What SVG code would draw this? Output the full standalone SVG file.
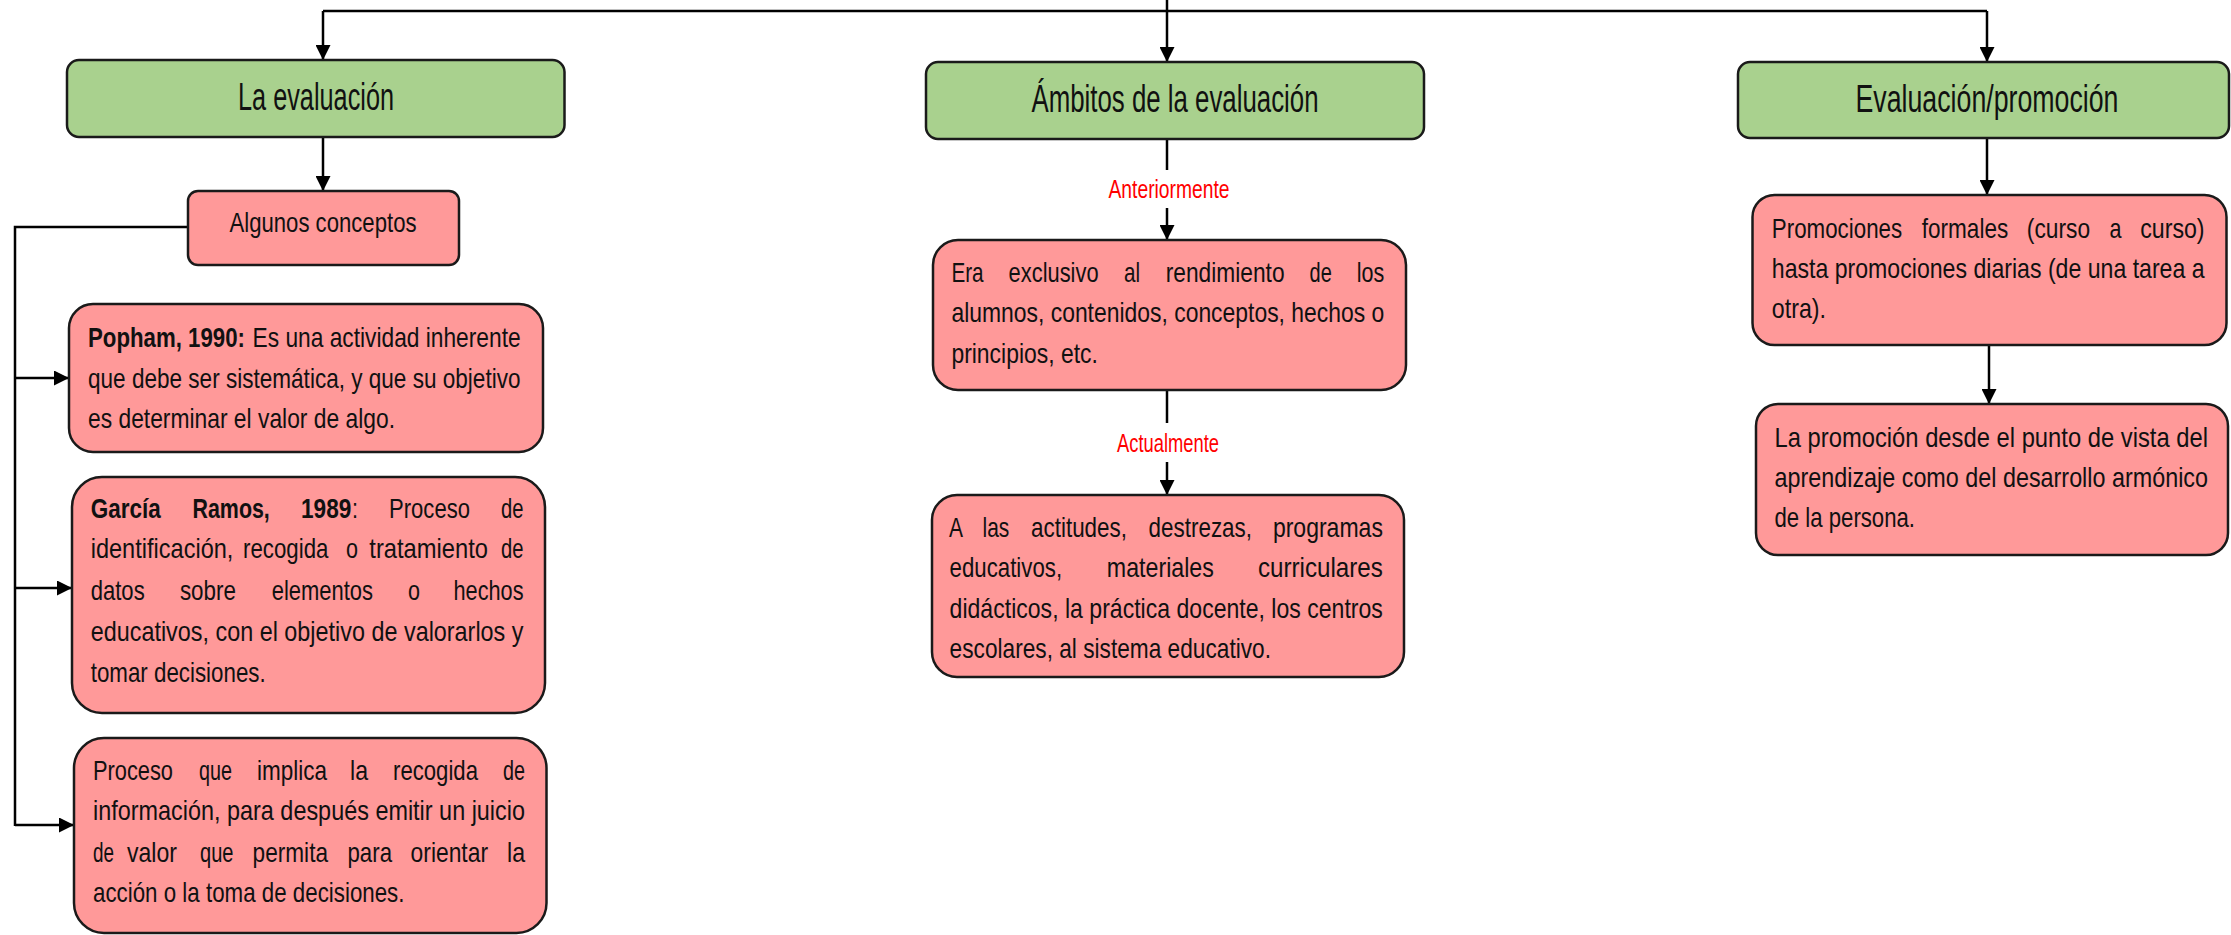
<svg xmlns="http://www.w3.org/2000/svg" width="2231" height="935" viewBox="0 0 2231 935">
<defs>
<style>
text{font-family:"Liberation Sans",Arial,sans-serif;fill:#111}
.h{font-size:38px}
.b{font-size:28px}
.lbl{font-size:26px;fill:#ff0000}
.bd{font-weight:bold}
.green{fill:#a9d18e;stroke:#1a1a1a;stroke-width:2.5}
.pink{fill:#ff9999;stroke:#1a1a1a;stroke-width:2.5}
.conn{fill:none;stroke:#000;stroke-width:2.5}
.arr{marker-end:url(#ah)}
</style>
<marker id="ah" viewBox="0 0 10 10" refX="10" refY="5" markerWidth="15" markerHeight="15" markerUnits="userSpaceOnUse" orient="auto"><path d="M0,0 L10,5 L0,10 z" fill="#000"/></marker>
</defs>
<rect width="2231" height="935" fill="#fff"/>

<g id="connectors">
<path class="conn" d="M323,11 H1987"/>
<path class="conn arr" d="M1167,0 V62"/>
<path class="conn arr" d="M323,11 V60"/>
<path class="conn arr" d="M1987,11 V62"/>
<path class="conn arr" d="M323,137 V191"/>
<path class="conn" d="M188,227 H15 V826"/>
<path class="conn arr" d="M15,378 H69"/>
<path class="conn arr" d="M15,588 H72"/>
<path class="conn arr" d="M15,825 H74"/>
<path class="conn" d="M1167,139 V170"/>
<path class="conn arr" d="M1167,208 V240"/>
<path class="conn" d="M1167,390 V423"/>
<path class="conn arr" d="M1167,462 V495"/>
<path class="conn arr" d="M1987,138 V195"/>
<path class="conn arr" d="M1989,345 V404"/>
<text class="lbl" x="1169" y="198" text-anchor="middle" textLength="121" lengthAdjust="spacingAndGlyphs">Anteriormente</text>
<text class="lbl" x="1168" y="452" text-anchor="middle" textLength="102" lengthAdjust="spacingAndGlyphs">Actualmente</text>
</g>

<g id="la-evaluacion">
<rect class="green" x="67" y="60" width="497.5" height="77" rx="12"/>
<text class="h" x="316" y="110" text-anchor="middle" textLength="156" lengthAdjust="spacingAndGlyphs">La evaluación</text>
</g>

<g id="algunos-conceptos">
<rect class="pink" x="188" y="191" width="271" height="74" rx="10"/>
<text class="b" x="323" y="232" text-anchor="middle" textLength="187" lengthAdjust="spacingAndGlyphs">Algunos conceptos</text>
</g>

<g id="popham">
<rect class="pink" x="69" y="304" width="474" height="148" rx="24"/>
<text class="b" y="347"><tspan class="bd" x="88" textLength="157" lengthAdjust="spacingAndGlyphs">Popham, 1990:</tspan><tspan x="252.6" textLength="268" lengthAdjust="spacingAndGlyphs">Es una actividad inherente</tspan></text>
<text class="b" x="88" y="388" textLength="432.5" lengthAdjust="spacingAndGlyphs">que debe ser sistemática, y que su objetivo</text>
<text class="b" x="88" y="428" textLength="307" lengthAdjust="spacingAndGlyphs">es determinar el valor de algo.</text>
</g>

<g id="garcia-ramos">
<rect class="pink" x="72" y="477" width="473" height="236" rx="30"/>
<text class="b" y="518"><tspan class="bd" x="90.7" textLength="70" lengthAdjust="spacingAndGlyphs">García</tspan><tspan class="bd" x="192.5" textLength="77.3" lengthAdjust="spacingAndGlyphs">Ramos,</tspan><tspan class="bd" x="301" textLength="50.3" lengthAdjust="spacingAndGlyphs">1989</tspan><tspan x="352" textLength="6" lengthAdjust="spacingAndGlyphs">:</tspan><tspan x="389" textLength="81" lengthAdjust="spacingAndGlyphs">Proceso</tspan><tspan x="501" textLength="22.5" lengthAdjust="spacingAndGlyphs">de</tspan></text>
<text class="b" y="558"><tspan x="90.7" textLength="142.7" lengthAdjust="spacingAndGlyphs">identificación,</tspan><tspan x="243" textLength="85.4" lengthAdjust="spacingAndGlyphs">recogida</tspan><tspan x="346" textLength="12" lengthAdjust="spacingAndGlyphs">o</tspan><tspan x="369.3" textLength="118.7" lengthAdjust="spacingAndGlyphs">tratamiento</tspan><tspan x="501" textLength="22.5" lengthAdjust="spacingAndGlyphs">de</tspan></text>
<text class="b" y="600"><tspan x="90.7" textLength="54" lengthAdjust="spacingAndGlyphs">datos</tspan><tspan x="179.9" textLength="56.1" lengthAdjust="spacingAndGlyphs">sobre</tspan><tspan x="271.7" textLength="101.3" lengthAdjust="spacingAndGlyphs">elementos</tspan><tspan x="408" textLength="12" lengthAdjust="spacingAndGlyphs">o</tspan><tspan x="453.5" textLength="70" lengthAdjust="spacingAndGlyphs">hechos</tspan></text>
<text class="b" x="90.7" y="641" textLength="432.8" lengthAdjust="spacingAndGlyphs">educativos, con el objetivo de valorarlos y</text>
<text class="b" x="90.7" y="682" textLength="175" lengthAdjust="spacingAndGlyphs">tomar decisiones.</text>
</g>

<g id="proceso">
<rect class="pink" x="74" y="738" width="472.5" height="195" rx="30"/>
<text class="b" y="780"><tspan x="93" textLength="80" lengthAdjust="spacingAndGlyphs">Proceso</tspan><tspan x="199" textLength="33" lengthAdjust="spacingAndGlyphs">que</tspan><tspan x="257" textLength="70" lengthAdjust="spacingAndGlyphs">implica</tspan><tspan x="350" textLength="18" lengthAdjust="spacingAndGlyphs">la</tspan><tspan x="393" textLength="85" lengthAdjust="spacingAndGlyphs">recogida</tspan><tspan x="503" textLength="22" lengthAdjust="spacingAndGlyphs">de</tspan></text>
<text class="b" x="93" y="820" textLength="432" lengthAdjust="spacingAndGlyphs">información, para después emitir un juicio</text>
<text class="b" y="862"><tspan x="93" textLength="21" lengthAdjust="spacingAndGlyphs">de</tspan><tspan x="127" textLength="50" lengthAdjust="spacingAndGlyphs">valor</tspan><tspan x="200" textLength="33.5" lengthAdjust="spacingAndGlyphs">que</tspan><tspan x="252.6" textLength="75.4" lengthAdjust="spacingAndGlyphs">permita</tspan><tspan x="347.5" textLength="44.5" lengthAdjust="spacingAndGlyphs">para</tspan><tspan x="410.6" textLength="77.4" lengthAdjust="spacingAndGlyphs">orientar</tspan><tspan x="507" textLength="18" lengthAdjust="spacingAndGlyphs">la</tspan></text>
<text class="b" x="93" y="902" textLength="311.5" lengthAdjust="spacingAndGlyphs">acción o la toma de decisiones.</text>
</g>

<g id="ambitos">
<rect class="green" x="926" y="62" width="498" height="77" rx="12"/>
<text class="h" x="1175" y="112" text-anchor="middle" textLength="287" lengthAdjust="spacingAndGlyphs">Ámbitos de la evaluación</text>
</g>

<g id="anteriormente">
<rect class="pink" x="933" y="240" width="473" height="150" rx="25"/>
<text class="b" y="282"><tspan x="951.4" textLength="32.2" lengthAdjust="spacingAndGlyphs">Era</tspan><tspan x="1008.6" textLength="90" lengthAdjust="spacingAndGlyphs">exclusivo</tspan><tspan x="1123.9" textLength="16.1" lengthAdjust="spacingAndGlyphs">al</tspan><tspan x="1165.7" textLength="118.9" lengthAdjust="spacingAndGlyphs">rendimiento</tspan><tspan x="1309.6" textLength="22.2" lengthAdjust="spacingAndGlyphs">de</tspan><tspan x="1356.8" textLength="27.5" lengthAdjust="spacingAndGlyphs">los</tspan></text>
<text class="b" x="951.4" y="322" textLength="432.9" lengthAdjust="spacingAndGlyphs">alumnos, contenidos, conceptos, hechos o</text>
<text class="b" x="951.4" y="363" textLength="146.5" lengthAdjust="spacingAndGlyphs">principios, etc.</text>
</g>

<g id="actualmente">
<rect class="pink" x="932" y="495" width="472" height="182" rx="25"/>
<text class="b" y="537"><tspan x="949" textLength="14" lengthAdjust="spacingAndGlyphs">A</tspan><tspan x="982.5" textLength="26.8" lengthAdjust="spacingAndGlyphs">las</tspan><tspan x="1031" textLength="96" lengthAdjust="spacingAndGlyphs">actitudes,</tspan><tspan x="1148.6" textLength="103.4" lengthAdjust="spacingAndGlyphs">destrezas,</tspan><tspan x="1272.9" textLength="110" lengthAdjust="spacingAndGlyphs">programas</tspan></text>
<text class="b" y="577"><tspan x="949.6" textLength="112.5" lengthAdjust="spacingAndGlyphs">educativos,</tspan><tspan x="1106.8" textLength="107.1" lengthAdjust="spacingAndGlyphs">materiales</tspan><tspan x="1257.9" textLength="125" lengthAdjust="spacingAndGlyphs">curriculares</tspan></text>
<text class="b" x="949.6" y="618" textLength="433.3" lengthAdjust="spacingAndGlyphs">didácticos, la práctica docente, los centros</text>
<text class="b" x="949.6" y="658" textLength="321.4" lengthAdjust="spacingAndGlyphs">escolares, al sistema educativo.</text>
</g>

<g id="evaluacion-promocion">
<rect class="green" x="1738" y="62" width="491" height="76" rx="12"/>
<text class="h" x="1987" y="112" text-anchor="middle" textLength="263" lengthAdjust="spacingAndGlyphs">Evaluación/promoción</text>
</g>

<g id="promociones">
<rect class="pink" x="1752.5" y="195" width="474" height="150" rx="22"/>
<text class="b" y="238"><tspan x="1771.8" textLength="130.4" lengthAdjust="spacingAndGlyphs">Promociones</tspan><tspan x="1921.8" textLength="86.4" lengthAdjust="spacingAndGlyphs">formales</tspan><tspan x="2026.8" textLength="63.3" lengthAdjust="spacingAndGlyphs">(curso</tspan><tspan x="2109.5" textLength="12" lengthAdjust="spacingAndGlyphs">a</tspan><tspan x="2140.2" textLength="64.4" lengthAdjust="spacingAndGlyphs">curso)</tspan></text>
<text class="b" x="1771.8" y="278" textLength="432.8" lengthAdjust="spacingAndGlyphs">hasta promociones diarias (de una tarea a</text>
<text class="b" x="1771.8" y="318" textLength="54.2" lengthAdjust="spacingAndGlyphs">otra).</text>
</g>

<g id="la-promocion">
<rect class="pink" x="1756" y="404" width="472" height="151" rx="22"/>
<text class="b" x="1774.5" y="447" textLength="433.5" lengthAdjust="spacingAndGlyphs">La promoción desde el punto de vista del</text>
<text class="b" x="1774.5" y="487" textLength="433.5" lengthAdjust="spacingAndGlyphs">aprendizaje como del desarrollo armónico</text>
<text class="b" x="1774.5" y="527" textLength="140.5" lengthAdjust="spacingAndGlyphs">de la persona.</text>
</g>
</svg>
